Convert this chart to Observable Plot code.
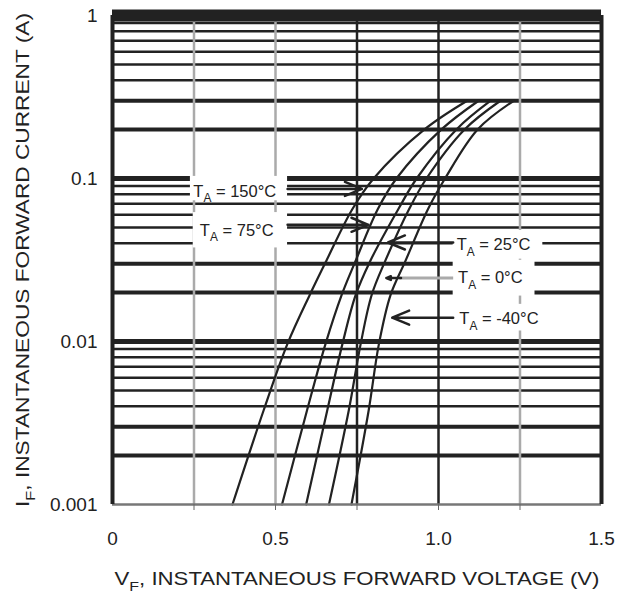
<!DOCTYPE html>
<html><head><meta charset="utf-8">
<script src="https://cdn.jsdelivr.net/npm/d3@7"></script>
<script src="https://cdn.jsdelivr.net/npm/@observablehq/plot@0.6"></script>
<style>body{margin:0;background:#fff} #chart svg{display:block}</style>
</head><body><div id="chart"></div>
<script>
// Forward current levels (A) at which the curves were read
const current = [0.001, 0.0038, 0.0096, 0.0193, 0.031, 0.065, 0.1, 0.2, 0.3];
// Forward voltage (V) per temperature
const temps = ["150", "75", "25", "0", "-40"];
const v150 = [0.368, 0.464, 0.536, 0.605, 0.655, 0.736, 0.801, 0.957, 1.088];
const v75  = [0.520, 0.597, 0.653, 0.703, 0.745, 0.814, 0.871, 1.009, 1.123];
const v25  = [0.594, 0.659, 0.705, 0.746, 0.790, 0.877, 0.933, 1.055, 1.160];
const v0   = [0.664, 0.725, 0.761, 0.795, 0.836, 0.910, 0.963, 1.080, 1.190];
const vm40 = [0.733, 0.786, 0.817, 0.853, 0.898, 0.968, 1.020, 1.120, 1.231];
const xTicks = [0, 0.5, 1.0, 1.5];
const xMinorTicks = [0.25, 0.5, 0.75, 1.0, 1.25];
const xGridLight = [0.25, 0.5, 1.25];
const xGridDark = [0.75, 1.0];
const yTicks = [1, 0.1, 0.01, 0.001];
const decades = [0.001, 0.01, 0.1];
const mantissas = [2, 3, 4, 5, 6, 7, 8, 9];

const series = [v150, v75, v25, v0, vm40];
const rows = [];
series.forEach((vals, i) => vals.forEach((v, j) => rows.push({temp: temps[i], V: v, I: current[j]})));

const gridHeavy = [], gridLight = [];
decades.forEach(d => mantissas.forEach(m => ((m === 2 || m === 3) ? gridHeavy : gridLight).push(+(d * m).toPrecision(3))));

// annotation layout (positions in data units)
const boxes = [
  {x1: 0.239, x2: 0.537, y1: 0.073, y2: 0.103},
  {x1: 0.248, x2: 0.537, y1: 0.0375, y2: 0.0618},
  {x1: 1.045, x2: 1.320, y1: 0.032, y2: 0.048},
  {x1: 1.045, x2: 1.296, y1: 0.019, y2: 0.0315},
  {x1: 1.045, x2: 1.310, y1: 0.0116, y2: 0.0169}
];
const labels = [
  {t: temps[0], x: 0.248, y: 0.0828},
  {t: temps[1], x: 0.268, y: 0.0478},
  {t: temps[2], x: 1.056, y: 0.0390},
  {t: temps[3], x: 1.060, y: 0.0245},
  {t: temps[4], x: 1.064, y: 0.0137}
];
const arrows = [
  {x1: 0.537, x2: 0.765, y: 0.0863},
  {x1: 0.537, x2: 0.785, y: 0.052},
  {x1: 1.045, x2: 0.845, y: 0.0405},
  {x1: 0.885, x2: 0.840, y: 0.0245},
  {x1: 1.045, x2: 0.858, y: 0.014}
];
const grayLinks = [{x1: 1.045, x2: 0.880, y: 0.0245}];

const plot = Plot.plot({
  width: 617, height: 594,
  marginLeft: 112, marginRight: 16, marginTop: 15, marginBottom: 90,
  style: {fontFamily: "'Liberation Sans', Arial, Helvetica, sans-serif", fontSize: "19px", color: "#222", background: "#fff"},
  x: {domain: [0, 1.5]},
  y: {type: "log", domain: [0.001, 1]},
  marks: [
    Plot.ruleY(gridLight, {stroke: "#222", strokeWidth: 2.5}),
    Plot.ruleY(gridHeavy, {stroke: "#222", strokeWidth: 4}),
    Plot.ruleY(decades.slice(1), {stroke: "#222", strokeWidth: 5}),
    Plot.ruleX(xGridLight, {stroke: "#aaa", strokeWidth: 2.5}),
    Plot.ruleX(xGridDark, {stroke: "#222", strokeWidth: 2.5}),
    Plot.rect(boxes, {x1: "x1", x2: "x2", y1: "y1", y2: "y2", fill: "white"}),
    Plot.link(grayLinks, {x1: "x1", x2: "x2", y1: "y", y2: "y", stroke: "#aaa", strokeWidth: 3}),
    Plot.arrow(arrows, {x1: "x1", x2: "x2", y1: "y", y2: "y", stroke: "#222", strokeWidth: 2.5, headLength: 11, headAngle: 45}),
    Plot.text(labels, {x: "x", y: "y", text: d => `T_A = ${d.t}°C`, textAnchor: "start", fontSize: 16.5, fill: "#222"}),
    Plot.line(rows, {x: "V", y: "I", z: "temp", stroke: "#222", strokeWidth: 2.2, curve: "catmull-rom"}),
    Plot.ruleY([0.001], {stroke: "#777", strokeWidth: 2.5}),
    Plot.ruleY([1], {stroke: "#222", strokeWidth: 12}),
    Plot.ruleX([0, 1.5], {stroke: "#222", strokeWidth: 4}),
    Plot.axisY({ticks: yTicks, tickSize: 0, tickPadding: 15, tickFormat: d => String(d), label: null}),
    Plot.axisX({ticks: xTicks, tickSize: 0, tickPadding: 27, tickFormat: d => d === 0 ? "0" : d.toFixed(1), label: null}),
    Plot.axisX({ticks: xMinorTicks, tickSize: 6, tickFormat: () => "", label: null, stroke: "#666"}),
    Plot.text(["I_F, INSTANTANEOUS FORWARD CURRENT (A)"], {text: d => d, frameAnchor: "left", dx: -90, rotate: -90, textAnchor: "middle", lineAnchor: "middle", fontSize: 19, fill: "#222"}),
    Plot.text(["V_F, INSTANTANEOUS FORWARD VOLTAGE (V)"], {text: d => d, frameAnchor: "bottom", dy: 74, textAnchor: "middle", lineAnchor: "middle", fontSize: 19, fill: "#222"})
  ]
});
document.getElementById("chart").append(plot);

// subscripts and stretched axis titles
const NS = "http://www.w3.org/2000/svg";
plot.querySelectorAll("text").forEach(t => {
  const s = t.textContent;
  const m = s.match(/^(.*?)_(\w)(.*)$/);
  if (!m) return;
  const fs = parseFloat(getComputedStyle(t).fontSize) || 16;
  const off = (fs * 0.32).toFixed(1);
  while (t.firstChild) t.removeChild(t.firstChild);
  const a = document.createElementNS(NS, "tspan"); a.textContent = m[1]; t.appendChild(a);
  const b = document.createElementNS(NS, "tspan"); b.textContent = m[2];
  b.setAttribute("font-size", (fs * 0.72).toFixed(1)); b.setAttribute("dy", off); t.appendChild(b);
  const c = document.createElementNS(NS, "tspan"); c.textContent = m[3]; c.setAttribute("dy", "-" + off); t.appendChild(c);
  if (s.startsWith("I_F")) { t.setAttribute("textLength", 494); t.setAttribute("lengthAdjust", "spacingAndGlyphs"); }
  if (s.startsWith("V_F")) { t.setAttribute("textLength", 485); t.setAttribute("lengthAdjust", "spacingAndGlyphs"); }
});
</script>
</body></html>
